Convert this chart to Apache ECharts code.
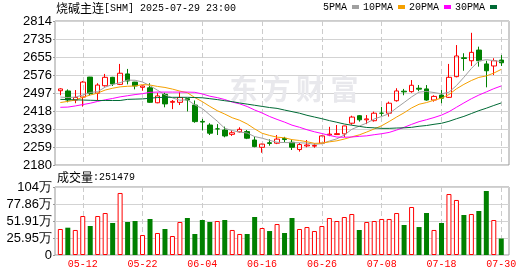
<!DOCTYPE html>
<html><head><meta charset="utf-8">
<script src="https://cdn.jsdelivr.net/npm/echarts@6/dist/echarts.min.js"></script>
<style>html,body{margin:0;padding:0;background:#fff}#c{width:530px;height:276px}</style>
</head><body><div id="c"></div>
<script>
// ---- data ----
const dates = ['05-07','05-08','05-09','05-12','05-13','05-14','05-15','05-16','05-19','05-20','05-21','05-22','05-23','05-26','05-27','05-28','05-29','05-30','06-03','06-04','06-05','06-06','06-09','06-10','06-11','06-12','06-13','06-16','06-17','06-18','06-19','06-20','06-23','06-24','06-25','06-26','06-27','06-30','07-01','07-02','07-03','07-04','07-07','07-08','07-09','07-10','07-11','07-14','07-15','07-16','07-17','07-18','07-21','07-22','07-23','07-24','07-25','07-28','07-29','07-30'];
const opens  = [2507,2506,2466,2479,2567,2496,2529,2566,2535,2581,2545,2522,2520,2454,2491,2456,2456,2472,2444,2372,2356,2339,2334,2315,2326,2327,2290,2258,2278,2276,2297,2280,2248,2264,2263,2276,2312,2314,2317,2364,2397,2379,2375,2408,2408,2463,2505,2503,2518,2515,2466,2488,2478,2569,2652,2639,2686,2625,2616,2642];
const closes = [2515,2466,2477,2545,2494,2532,2566,2537,2584,2550,2528,2528,2456,2484,2449,2460,2477,2466,2371,2369,2320,2339,2308,2322,2337,2298,2261,2272,2275,2294,2292,2258,2270,2268,2266,2308,2316,2318,2352,2391,2379,2383,2408,2408,2452,2506,2502,2531,2514,2466,2482,2474,2566,2660,2649,2676,2639,2595,2639,2630];
const lows   = [2487,2456,2452,2437,2487,2463,2525,2528,2532,2535,2513,2507,2453,2452,2434,2426,2444,2416,2366,2332,2312,2312,2302,2308,2323,2294,2258,2234,2265,2272,2280,2246,2239,2258,2256,2272,2307,2312,2303,2357,2371,2360,2371,2396,2393,2459,2487,2498,2505,2463,2459,2452,2475,2566,2595,2616,2613,2522,2576,2616];
const highs  = [2518,2513,2510,2550,2568,2540,2581,2568,2625,2603,2546,2529,2540,2498,2498,2466,2500,2474,2464,2383,2364,2360,2349,2334,2346,2334,2305,2274,2293,2312,2304,2290,2277,2290,2275,2310,2348,2356,2353,2397,2400,2400,2415,2436,2459,2518,2515,2554,2532,2532,2487,2510,2625,2708,2672,2762,2701,2639,2650,2664];
const volumes = [397000,417000,382000,595000,443000,595000,641000,489000,947000,504000,519000,305000,550000,336000,397000,290000,504000,565000,321000,534000,504000,519000,534000,382000,321000,321000,580000,412000,366000,473000,336000,565000,397000,427000,366000,443000,565000,519000,580000,626000,382000,504000,519000,550000,550000,641000,458000,733000,427000,641000,382000,489000,931000,840000,611000,626000,672000,977000,534000,251479];
const ma5  = [2479,2477,2479,2488,2499.4,2502.8,2522.8,2534.8,2542.6,2553.8,2553,2545.4,2529.2,2509.2,2489,2475.4,2465.2,2467.2,2444.6,2428.6,2400.6,2373,2341.4,2331.6,2325.2,2320.8,2305.2,2298,2288.6,2280,2278.8,2278.2,2277.8,2276.4,2270.8,2274,2285.6,2295.2,2312,2337,2351.2,2364.6,2382.6,2393.8,2406,2431.4,2455.2,2479.8,2501,2503.8,2499,2493.4,2500.4,2529.6,2566.2,2605,2638,2643.8,2639.6,2635.8];
const ma10 = [2455,2460,2466,2478,2488,2497,2510,2518,2524,2526.6,2527.9,2534.1,2532,2525.9,2521.4,2514.2,2505.3,2498.2,2476.9,2458.8,2438,2419.1,2404.3,2388.1,2376.9,2360.7,2339.1,2319.7,2310.1,2302.6,2299.8,2291.7,2287.9,2282.5,2275.4,2276.4,2281.9,2286.5,2294.2,2303.9,2312.6,2325.1,2338.9,2352.9,2371.5,2391.3,2409.9,2431.2,2447.4,2454.9,2465.2,2474.3,2490.1,2515.3,2535,2552,2565.7,2572.1,2584.6,2601];
const ma20 = [2434,2435,2440,2446,2452,2460,2467,2473,2480,2485,2490,2494,2500,2501,2501,2501,2501,2501,2500,2492.7,2483,2476.6,2468.2,2457,2449.2,2437.5,2422.2,2409,2393.5,2380.7,2368.9,2355.4,2346.1,2335.3,2326.2,2318.6,2310.5,2303.1,2302.2,2303.3,2306.2,2308.4,2313.4,2317.7,2323.5,2333.9,2345.9,2358.9,2370.8,2379.4,2388.9,2399.7,2414.5,2434.1,2453.3,2471.7,2487.8,2501.7,2516,2528];
const ma30 = [2469,2468,2467,2466,2465,2464,2464,2464,2464,2469,2470,2471,2474,2477,2478,2478,2478,2478,2477,2476,2472,2468,2463,2459,2453,2448,2443,2438,2433,2429.3,2421.9,2415,2408.1,2398.8,2391.2,2383.8,2375.4,2368.1,2360.4,2355.1,2350.1,2345.3,2343.7,2341.2,2341.3,2342.8,2343.6,2345.8,2350.6,2353.8,2359.2,2363.7,2372.3,2383.6,2394,2406.6,2419.2,2430,2442.1,2453.3];
const priceTicks = ['2180','2259','2339','2418','2497','2576','2655','2735','2814'];
const volTicks = ['0','25.95万','51.91万','77.86万','104万'];
const lastVolume = 251479;

// ---- styles ----
const RED = '#ff0000', GREEN = '#008000';
const labelEvery = (idx) => idx % 8 === 3;
const numFont = 'Liberation Sans';
const monoFont = 'Liberation Mono';

const candleData = dates.map((d, i) => {
  const item = { value: [opens[i], closes[i], lows[i], highs[i]] };
  if (opens[i] === closes[i]) item.itemStyle = { borderColor: GREEN, borderColor0: GREEN };
  return item;
});
const volData = volumes.map((v, i) => {
  const up = closes[i] >= opens[i];
  return { value: v, itemStyle: up ? { color: '#ffffff', borderColor: RED, borderWidth: 1 } : { color: GREEN, borderWidth: 0 } };
});

const chart = echarts.init(document.getElementById('c'), null, { renderer: 'canvas' });
const dashed = { show: true, interval: (i) => labelEvery(i), alignWithLabel: true, lineStyle: { color: '#cccccc', type: [5, 3], width: 1 } };
const maLine = (name, data, color) => ({
  name, type: 'line', data, xAxisIndex: 1, yAxisIndex: 1, symbol: 'none', smooth: false,
  color, lineStyle: { color, width: 1 }, z: 5, silent: true
});

chart.setOption({
  animation: false,
  backgroundColor: '#ffffff',
  title: {
    text: '{a|烧碱主连}{b|[SHM] 2025-07-29 23:00}',
    left: 56, top: 1, padding: 0,
    textStyle: { fontWeight: 'normal', rich: {
      a: { fontSize: 12, fontFamily: 'Noto Sans CJK SC', fontWeight: 'normal', color: '#000', lineHeight: 14 },
      b: { fontSize: 10, fontFamily: monoFont, fontWeight: 'normal', color: '#000', lineHeight: 14 }
    } }
  },
  legend: {
    data: ['5PMA', '10PMA', '20PMA', '30PMA'],
    right: 33, top: 2, padding: 0, itemGap: 4, align: 'right', icon: 'rect',
    itemWidth: 7, itemHeight: 4, selectedMode: false,
    textStyle: { fontSize: 10, fontFamily: monoFont, color: '#000' }
  },
  graphic: [
    { type: 'text', left: 57, top: 171, silent: true, style: {
      text: '{a|成交量}{b|:' + lastVolume + '}',
      rich: { a: { fontSize: 12, fontFamily: 'Noto Sans CJK SC', fill: '#000' }, b: { fontSize: 10, fontFamily: monoFont, fill: '#000' } }
    } },
    ...['东', '方', '财', '富'].map((ch, k) => ({
      type: 'text', x: [243.5, 276.5, 310, 344.5][k], y: 89, z: 1, silent: true,
      style: { text: ch, fontSize: 28, fontWeight: 'bold', fontFamily: 'Noto Sans CJK SC', fill: '#e8e8ec', align: 'center', verticalAlign: 'middle' }
    }))
  ],
  grid: [
    { left: 55, top: 21, width: 454, height: 144, show: true, borderColor: '#999', borderWidth: 1 },
    { left: 56.6, top: 21, width: 448.4, height: 144 },
    { left: 55, top: 187, width: 454, height: 68, show: true, borderColor: '#999', borderWidth: 1 },
    { left: 56.6, top: 187, width: 448.4, height: 68 }
  ],
  xAxis: [
    { type: 'value', gridIndex: 0, min: 0, max: 1, show: false },
    { type: 'category', gridIndex: 1, data: dates, boundaryGap: true,
      axisLine: { show: false }, axisTick: { show: false }, axisLabel: { show: false }, splitLine: dashed },
    { type: 'value', gridIndex: 2, min: 0, max: 1, show: false },
    { type: 'category', gridIndex: 3, data: dates, boundaryGap: true,
      axisLine: { show: false }, axisTick: { show: false }, splitLine: dashed,
      axisLabel: { interval: (i) => labelEvery(i), color: RED, fontSize: 10, fontFamily: monoFont, margin: 4 } }
  ],
  yAxis: [
    { type: 'value', gridIndex: 0, min: 0, max: 8, interval: 1,
      axisLine: { show: false }, axisTick: { show: true, length: 2, lineStyle: { color: '#999' } },
      axisLabel: { formatter: (v) => priceTicks[Math.round(v)], color: '#000', fontSize: 13, fontFamily: numFont, margin: 3 },
      splitLine: { show: true, lineStyle: { color: '#d3d3d3', width: 1 } } },
    { type: 'value', gridIndex: 1, min: 2180, max: 2814, show: false, splitLine: { show: false } },
    { type: 'value', gridIndex: 2, min: 0, max: 1038200, interval: 259550,
      axisLine: { show: false }, axisTick: { show: true, length: 2, lineStyle: { color: '#999' } },
      axisLabel: { formatter: (v) => volTicks[Math.round(v / 259550)], color: '#000', fontSize: 13, fontFamily: numFont, margin: 3 },
      splitLine: { show: true, lineStyle: { color: '#d3d3d3', width: 1 } } },
    { type: 'value', gridIndex: 3, min: 0, max: 1038200, show: false, splitLine: { show: false } }
  ],
  series: [
    { name: 'K', type: 'candlestick', xAxisIndex: 1, yAxisIndex: 1, data: candleData, barWidth: 5, z: 3,
      itemStyle: { color: 'transparent', color0: GREEN, borderColor: RED, borderColor0: GREEN, borderWidth: 1 } },
    maLine('5PMA', ma5, '#a0a0a0'),
    maLine('10PMA', ma10, '#f5a000'),
    maLine('20PMA', ma20, '#ff00ff'),
    maLine('30PMA', ma30, '#006a35'),
    { name: 'VOL', type: 'bar', xAxisIndex: 3, yAxisIndex: 3, data: volData, barWidth: 5, z: 3 }
  ]
});
</script>
</body></html>
